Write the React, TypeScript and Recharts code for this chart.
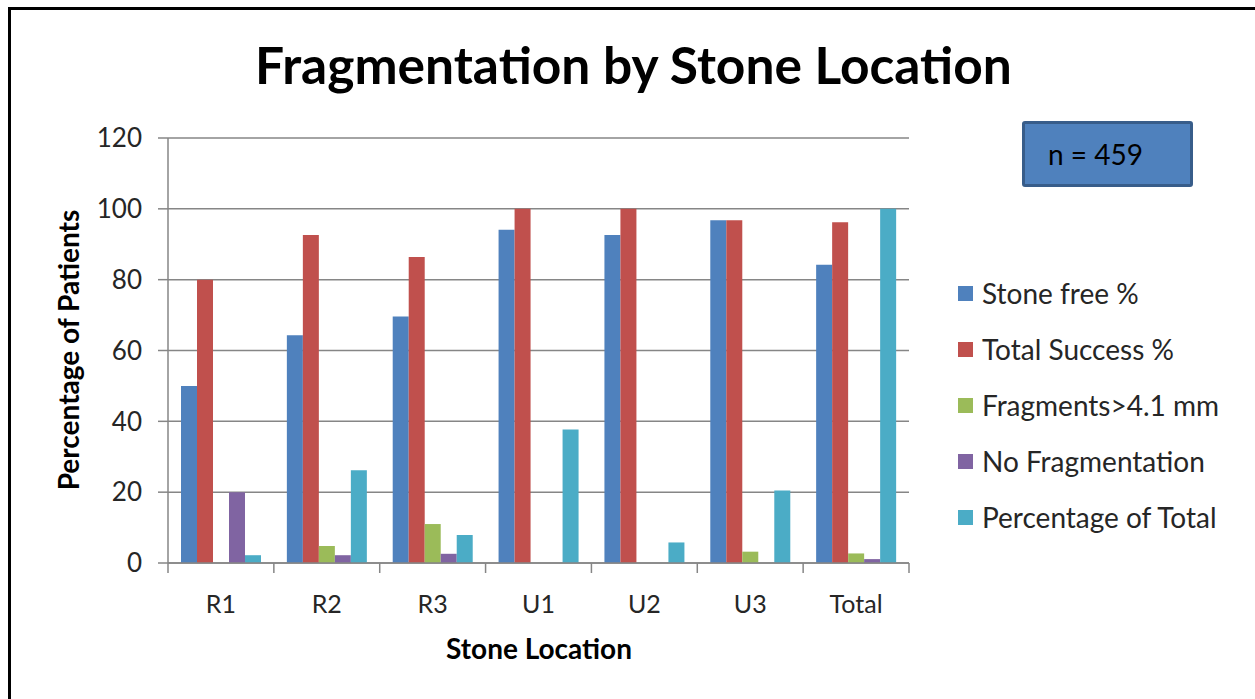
import React from 'react';
import { BarChart, Bar, XAxis, YAxis, CartesianGrid } from 'recharts';

const locations = ['R1', 'R2', 'R3', 'U1', 'U2', 'U3', 'Total'];
const stoneFree = [50, 64.3, 69.6, 94.1, 92.6, 96.8, 84.2];
const totalSuccess = [80, 92.6, 86.4, 100, 100, 96.8, 96.2];
const fragments = [0, 4.8, 11, 0, 0, 3.2, 2.7];
const noFragmentation = [20, 2.2, 2.6, 0, 0, 0, 1.1];
const percentOfTotal = [2.2, 26.2, 7.9, 37.7, 5.8, 20.5, 100];
const yTicks = [0, 20, 40, 60, 80, 100, 120];

const series = [
  { key: 'stoneFree', name: 'Stone free %', color: '#4F81BD' },
  { key: 'totalSuccess', name: 'Total Success %', color: '#C0504D' },
  { key: 'fragments', name: 'Fragments>4.1 mm', color: '#9BBB59' },
  { key: 'noFragmentation', name: 'No Fragmentation', color: '#8064A2' },
  { key: 'percentOfTotal', name: 'Percentage of Total', color: '#4BACC6' },
];

const data = locations.map((loc, i) => ({
  loc,
  stoneFree: stoneFree[i],
  totalSuccess: totalSuccess[i],
  fragments: fragments[i],
  noFragmentation: noFragmentation[i],
  percentOfTotal: percentOfTotal[i],
}));

const FONT = 'Lato, "Open Sans", sans-serif';
const AXIS = '#868686';
const TEXT = '#262626';
const PLOT_LEFT = 168;
const PLOT_RIGHT = 909;
const BAND = (PLOT_RIGHT - PLOT_LEFT) / locations.length;

// Excel-style category ticks sit on the band boundaries, not the centres
const XTick = (props: any) => {
  const { x, y, payload, index } = props;
  return (
    <g>
      <line x1={x - BAND / 2} y1={y - 8} x2={x - BAND / 2} y2={y + 2} stroke={AXIS} strokeWidth={1.5} />
      {index === locations.length - 1 && (
        <line x1={x + BAND / 2} y1={y - 8} x2={x + BAND / 2} y2={y + 2} stroke={AXIS} strokeWidth={1.5} />
      )}
      <text x={x} y={y + 42} textAnchor="middle" fontSize={25} fill={TEXT} fontFamily={FONT}>
        {payload.value}
      </text>
    </g>
  );
};

export default function App() {
  return (
    <div style={{ position: 'relative', width: 1255, height: 699, background: '#fff', overflow: 'hidden' }}>
      <style>{'body{margin:0}'}</style>
      <div style={{ position: 'absolute', left: 8, top: 7, width: 1300, height: 800, borderLeft: '3px solid #000', borderTop: '3px solid #000' }} />
      <div style={{ position: 'absolute', left: 0, top: 33, width: 1267, textAlign: 'center', fontFamily: FONT, fontWeight: 700, fontSize: 51.5, color: '#000' }}>
        Fragmentation by Stone Location
      </div>
      <div style={{ position: 'absolute', left: 1022, top: 121, width: 171, height: 66, boxSizing: 'border-box', background: '#4F81BD', border: '3px solid #385D8A', borderRadius: 3, fontFamily: FONT, fontSize: 28, color: '#000', lineHeight: '60px', paddingLeft: 23 }}>
        n = 459
      </div>
      <div style={{ position: 'absolute', left: 68, top: 350, transform: 'translate(-50%, -50%) rotate(-90deg)', whiteSpace: 'nowrap', fontFamily: FONT, fontWeight: 700, fontSize: 28, color: '#000' }}>
        Percentage of Patients
      </div>
      <div style={{ position: 'absolute', left: 539, top: 648, transform: 'translate(-50%, -50%)', whiteSpace: 'nowrap', fontFamily: FONT, fontWeight: 700, fontSize: 28, color: '#000' }}>
        Stone Location
      </div>
      <div style={{ position: 'absolute', left: 958, top: 265, fontFamily: FONT, fontSize: 28, color: TEXT }}>
        {series.map(s => (
          <div key={s.key} style={{ display: 'flex', alignItems: 'center', height: 56 }}>
            <span style={{ width: 15, height: 15, background: s.color, marginRight: 9, display: 'inline-block' }} />
            <span style={{ whiteSpace: 'nowrap' }}>{s.name}</span>
          </div>
        ))}
      </div>
      <BarChart
        width={1255}
        height={699}
        data={data}
        margin={{ top: 138, right: 1255 - PLOT_RIGHT, bottom: 96, left: 98 }}
        barCategoryGap={13}
        barGap={0}
        style={{ position: 'absolute', left: 0, top: 0 }}
      >
        <CartesianGrid vertical={false} stroke={AXIS} strokeWidth={1.5} />
        <XAxis
          dataKey="loc"
          height={40}
          stroke={AXIS}
          strokeWidth={1.5}
          tickLine={false}
          tick={<XTick />}
          interval={0}
        />
        <YAxis
          width={70}
          domain={[0, 120]}
          ticks={yTicks}
          stroke={AXIS}
          strokeWidth={1.5}
          tickSize={10}
          tick={{ fontSize: 26, fill: TEXT, fontFamily: FONT, dx: -14 }}
        />
        {series.map(s => (
          <Bar key={s.key} dataKey={s.key} name={s.name} fill={s.color} isAnimationActive={false} />
        ))}
      </BarChart>
    </div>
  );
}
